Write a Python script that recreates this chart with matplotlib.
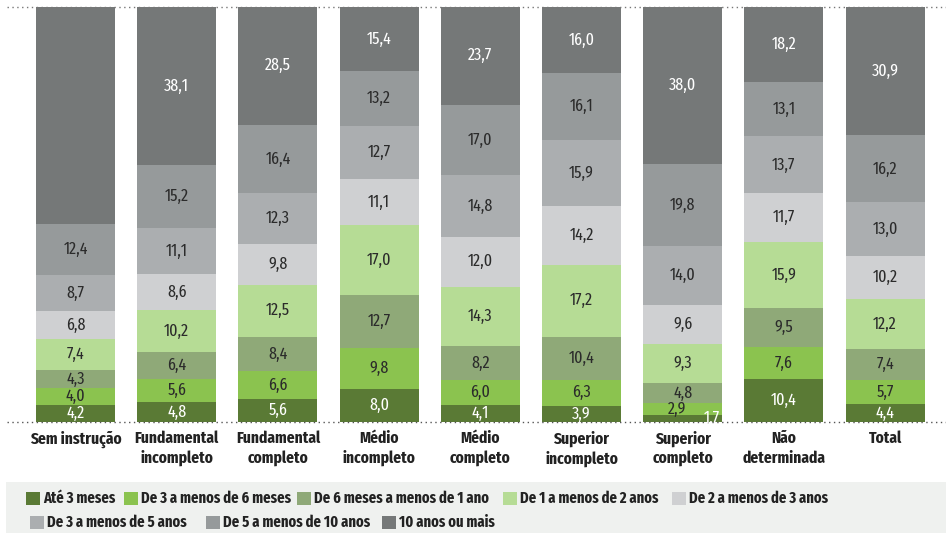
import matplotlib.pyplot as plt
from matplotlib.patches import Rectangle
from matplotlib import font_manager
import numpy as np

# categories and series (percent)
categorias = ["Sem instrução", "Fundamental\nincompleto", "Fundamental\ncompleto",
              "Médio\nincompleto", "Médio\ncompleto", "Superior\nincompleto",
              "Superior\ncompleto", "Não\ndeterminada", "Total"]
series = ["Até 3 meses", "De 3 a menos de 6 meses", "De 6 meses a menos de 1 ano",
          "De 1 a menos de 2 anos", "De 2 a menos de 3 anos", "De 3 a menos de 5 anos",
          "De 5 a menos de 10 anos", "10 anos ou mais"]

ate_3m    = [4.2, 4.8, 5.6, 8.0, 4.1, 3.9, 1.7, 10.4, 4.4]
de_3a6m   = [4.0, 5.6, 6.6, 9.8, 6.0, 6.3, 2.9, 7.6, 5.7]
de_6ma1a  = [4.3, 6.4, 8.4, 12.7, 8.2, 10.4, 4.8, 9.5, 7.4]
de_1a2a   = [7.4, 10.2, 12.5, 17.0, 14.3, 17.2, 9.3, 15.9, 12.2]
de_2a3a   = [6.8, 8.6, 9.8, 11.1, 12.0, 14.2, 9.6, 11.7, 10.2]
de_3a5a   = [8.7, 11.1, 12.3, 12.7, 14.8, 15.9, 14.0, 13.7, 13.0]
de_5a10a  = [12.4, 15.2, 16.4, 13.2, 17.0, 16.1, 19.8, 13.1, 16.2]
mais_10a  = [52.2, 38.1, 28.5, 15.4, 23.7, 16.0, 38.0, 18.2, 30.9]

valores = [ate_3m, de_3a6m, de_6ma1a, de_1a2a, de_2a3a, de_3a5a, de_5a10a, mais_10a]
cores = ["#5a7a35", "#8bc34f", "#8fa978", "#b6dc95", "#cfd0d2", "#abaeb0", "#969a9b", "#757878"]
cor_texto = ["white", "#2b2b2b", "#2b2b2b", "#2b2b2b", "#2b2b2b", "#2b2b2b", "#2b2b2b", "white"]


# the reference uses a narrow typeface: take the most condensed file available
def acha_fonte(negrito):
    melhor, nota_melhor = None, 0
    for f in font_manager.fontManager.ttflist:
        n = f.fname.split("/")[-1].lower()
        if "mono" in n or "italic" in n or "oblique" in n:
            continue
        if negrito:
            if "bold" not in n or "semibold" in n or "extrabold" in n:
                continue
        else:
            if any(w in n for w in ["bold", "light", "thin", "black", "medium"]):
                continue
        if "extracondensed" in n:
            nota = 4
        elif "semicondensed" in n:
            nota = 2
        elif "condensed" in n or "narrow" in n:
            nota = 3
        else:
            nota = 0
        if nota > nota_melhor:
            melhor, nota_melhor = f.fname, nota
    return melhor

f_bold = acha_fonte(True)
f_reg = acha_fonte(False)
fp_bold = font_manager.FontProperties(fname=f_bold) if f_bold else \
    font_manager.FontProperties(family="Roboto", weight="bold")
fp_reg = font_manager.FontProperties(fname=f_reg) if f_reg else \
    font_manager.FontProperties(family="Roboto")

fig = plt.figure(figsize=(9.46, 5.33), dpi=100)
W, H = 946, 533
r = fig.canvas.get_renderer()


# font size giving a text about the width it has in the reference (capped)
def tamanho(texto, fp, largura, maximo):
    t = fig.text(0, 0, texto, fontproperties=fp, fontsize=10)
    w = t.get_window_extent(r).width
    t.remove()
    return min(maximo, 10 * largura / w)

s_val = tamanho("38,1", fp_reg, 27, 12.5)
s_cat = tamanho("Sem instrução", fp_bold, 92, 13.5)
s_leg = tamanho("De 3 a menos de 6 meses", fp_bold, 150, 12)

ax = fig.add_axes([7 / W, 1 - 422 / H, 939 / W, 415 / H])

x = np.arange(len(categorias))
base = np.zeros(len(categorias))
for k, vals in enumerate(valores):
    vals = np.array(vals)
    ax.bar(x, vals, bottom=base, width=0.78, color=cores[k], linewidth=0)
    for i, v in enumerate(vals):
        if k == 7 and i == 0:
            continue  # no label shown in reference
        xt, yt = x[i], base[i] + v / 2
        if i == 6 and k == 0:
            xt, yt = x[i] + 0.29, base[i] + 1.0
        if i == 6 and k == 1:
            xt = x[i] - 0.06
        ax.text(xt, yt, f"{v:.1f}".replace(".", ","), ha="center", va="center",
                fontproperties=fp_reg, fontsize=s_val, color=cor_texto[k])
    base += vals

ax.set_xlim((7 - 75.5) / 101.2, (946 - 75.5) / 101.2)
ax.set_ylim(0, 100)
ax.axis("off")
ax.axhline(0, color="#555555", linestyle=(0, (1, 2.5)), linewidth=1, clip_on=False)
ax.axhline(100, color="#777777", linestyle=(0, (1, 2.5)), linewidth=1, clip_on=False)

for i, c in enumerate(categorias):
    ax.text(x[i], -2.0, c, ha="center", va="top", fontproperties=fp_bold,
            fontsize=s_cat, color="#222222", linespacing=1.3)

# legend, laid out by hand in two rows on a light band
fig.patches.append(Rectangle((6 / W, 0), 940 / W, 51 / H, transform=fig.transFigure,
                             facecolor="#eff1ef", edgecolor="none", zorder=0))
pos = [(26, 498), (124, 498), (297, 498), (503, 498), (672, 498),
       (30, 522), (206, 522), (382, 522)]
for k, (px, py) in enumerate(pos):
    fig.patches.append(Rectangle((px / W, 1 - (py + 7) / H), 14 / W, 13 / H,
                                 transform=fig.transFigure, facecolor=cores[k],
                                 edgecolor="none"))
    fig.text((px + 17) / W, 1 - py / H, series[k], ha="left", va="center",
             fontproperties=fp_bold, fontsize=s_leg, color="#222222")

fig.savefig("out.png", dpi=100)
